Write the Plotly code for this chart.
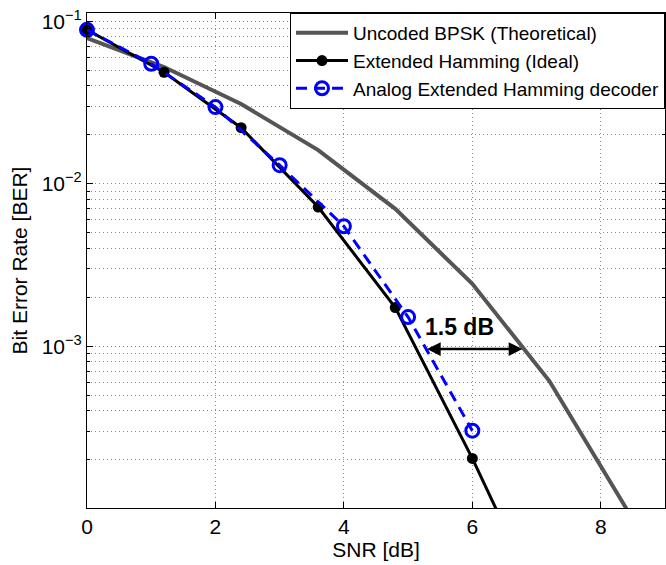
import plotly.graph_objects as go
import math

# ---- data ----
snr_uncoded = [0.0, 1.2, 2.4, 3.6, 4.8, 6.0, 7.2, 8.4]
ber_uncoded = [0.0786, 0.0522, 0.0309, 0.0161, 0.0070, 0.00242, 0.00061, 0.000100]

snr_ideal = [0.0, 1.2, 2.4, 3.6, 4.8, 6.0, 7.2]
ber_ideal = [0.0885, 0.0485, 0.0221, 0.00718, 0.00173, 0.000204, 0.000020]

snr_analog = [0, 1, 2, 3, 4, 5, 6]
ber_analog = [0.0885, 0.0547, 0.0296, 0.0130, 0.00547, 0.00151, 0.000302]

y_tick_vals = [1e-3, 1e-2, 1e-1]
y_tick_text = ["10<sup>−3</sup>", "10<sup>−2</sup>", "10<sup>−1</sup>"]
x_tick_vals = [0, 2, 4, 6, 8]

arrow_y = 0.00096
arrow_x = [5.27, 6.78]
label_text = "1.5 dB"
label_pos = (5.80, 0.00131)

FONT = "Liberation Sans, Arial, Helvetica, sans-serif"
GRID = "#8a8a8a"

fig = go.Figure()

fig.add_trace(go.Scatter(
    x=snr_uncoded, y=ber_uncoded, mode="lines",
    name="Uncoded BPSK (Theoretical)",
    line=dict(color="#555555", width=4),
))

# visible-in-range ideal points (with markers) + line extension past the bottom edge
n_in = 6
fig.add_trace(go.Scatter(
    x=snr_ideal[:n_in], y=ber_ideal[:n_in], mode="lines+markers",
    name="Extended Hamming (Ideal)",
    line=dict(color="black", width=3),
    marker=dict(symbol="circle", size=11, color="black"),
    cliponaxis=False,
))
fig.add_trace(go.Scatter(
    x=snr_ideal[n_in - 1:], y=ber_ideal[n_in - 1:], mode="lines",
    line=dict(color="black", width=3), showlegend=False, hoverinfo="skip",
))

fig.add_trace(go.Scatter(
    x=snr_analog, y=ber_analog, mode="lines+markers",
    name="Analog Extended Hamming decoder",
    line=dict(color="#0000ff", width=3, dash="11px,7px"),
    marker=dict(symbol="circle-open", size=13, color="#0000ff", line=dict(width=3)),
    cliponaxis=False,
))

# arrow with two heads
fig.add_annotation(
    x=arrow_x[1], y=math.log10(arrow_y),
    ax=arrow_x[0], ay=math.log10(arrow_y),
    xref="x", yref="y", axref="x", ayref="y",
    text="", showarrow=True, arrowhead=2, startarrowhead=2,
    arrowside="end+start", arrowsize=1.1, startarrowsize=1.1,
    arrowwidth=2.5, arrowcolor="black",
)
fig.add_annotation(
    x=label_pos[0], y=math.log10(label_pos[1]), xref="x", yref="y",
    text="<b>" + label_text + "</b>", showarrow=False,
    font=dict(family=FONT, size=23, color="black"),
)

minor_vals = [k * 10.0 ** e for e in range(-4, 0) for k in range(2, 10)]

fig.update_layout(
    width=666, height=565,
    margin=dict(l=87, r=1, t=13, b=57, autoexpand=False),
    paper_bgcolor="white", plot_bgcolor="white",
    font=dict(family=FONT, size=21, color="black"),
    showlegend=True,
    legend=dict(
        x=1, y=1, xanchor="right", yanchor="top",
        bgcolor="white", bordercolor="black", borderwidth=1,
        font=dict(family=FONT, size=19, color="black"),
        tracegroupgap=0, itemwidth=52,
    ),
    xaxis=dict(
        range=[0, 9], tickvals=x_tick_vals, ticks="inside", ticklen=6,
        tickcolor="black", showline=True, linecolor="black", linewidth=1,
        mirror="ticks", showgrid=True, gridcolor=GRID, griddash="1px,3px",
        gridwidth=1, zeroline=False, automargin=False,
        title=dict(text="SNR [dB]", standoff=4, font=dict(size=21)),
        tickfont=dict(size=21),
    ),
    yaxis=dict(
        type="log", range=[math.log10(1.01e-4), math.log10(0.1123)],
        tickvals=y_tick_vals, ticktext=y_tick_text,
        ticks="inside", ticklen=6, tickcolor="black",
        showline=True, linecolor="black", linewidth=1, mirror="ticks",
        showgrid=True, gridcolor=GRID, griddash="1px,3px", gridwidth=1,
        zeroline=False, automargin=False,
        minor=dict(tickvals=minor_vals, ticks="inside", ticklen=3,
                   tickcolor="black", showgrid=True, gridcolor=GRID,
                   griddash="1px,3px", gridwidth=1),
        title=dict(text="Bit Error Rate [BER]", standoff=8, font=dict(size=21)),
        tickfont=dict(size=21),
    ),
)

fig.write_html(
    "out.html",
    config={"displayModeBar": False},
    post_script="document.body.style.margin='0';document.body.style.overflow='hidden';",
)
